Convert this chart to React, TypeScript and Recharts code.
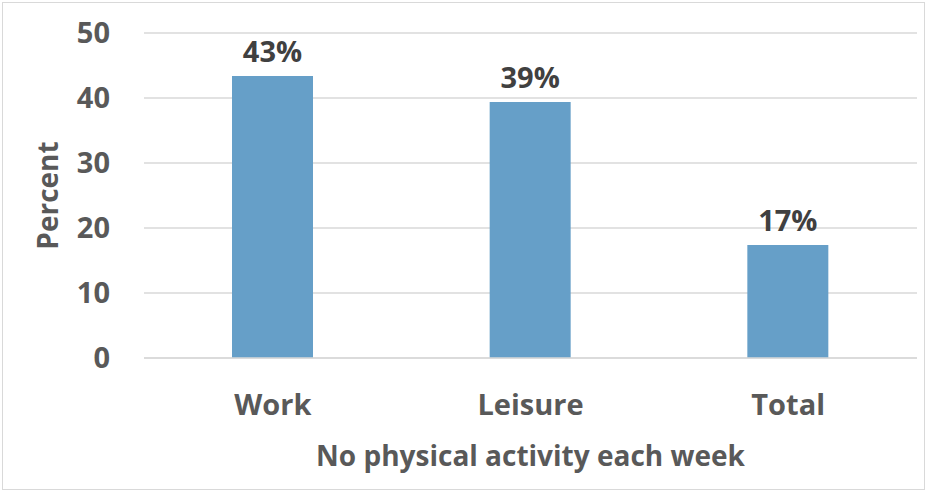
import { Bar, BarChart, CartesianGrid, LabelList, XAxis, YAxis } from "recharts";

const categories = ["Work", "Leisure", "Total"];
const percents = [43.4, 39.4, 17.4];
const yTicks = [0, 10, 20, 30, 40, 50];

const data = categories.map((name, i) => ({ name, value: percents[i] }));

const FONT = "'Open Sans', Lato, sans-serif";

export default function App() {
  return (
    <div
      style={{
        position: "absolute",
        left: 0,
        top: 0,
        width: 927,
        height: 492,
        background: "#fff",
        fontFamily: FONT,
      }}
    >
      <div
        style={{
          position: "absolute",
          left: 2,
          top: 2,
          width: 921,
          height: 486,
          border: "1px solid #d9d9d9",
        }}
      />
      <BarChart
        width={927}
        height={492}
        data={data}
        margin={{ top: 33, right: 10, left: 0, bottom: 0 }}
      >
        <CartesianGrid vertical={false} stroke="#d9d9d9" strokeWidth={1.5} />
        <XAxis
          dataKey="name"
          height={134}
          tickSize={0}
          tickMargin={36}
          axisLine={{ stroke: "#d9d9d9", strokeWidth: 1.5 }}
          tickLine={false}
          tick={{ fill: "#595959", fontSize: 29, fontWeight: 700, fontFamily: FONT }}
          label={{
            value: "No physical activity each week",
            position: "insideBottom",
            offset: 26,
            fill: "#595959",
            fontSize: 28,
            fontWeight: 700,
            fontFamily: FONT,
          }}
        />
        <YAxis
          width={144}
          domain={[0, 50]}
          ticks={yTicks}
          tickSize={0}
          tickMargin={34}
          axisLine={false}
          tickLine={false}
          tick={{ fill: "#595959", fontSize: 29, fontWeight: 700, fontFamily: FONT }}
          label={{
            value: "Percent",
            angle: -90,
            position: "insideLeft",
            offset: 48,
            style: { textAnchor: "middle" },
            fill: "#595959",
            fontSize: 28,
            fontWeight: 700,
            fontFamily: FONT,
          }}
        />
        <Bar dataKey="value" fill="#669fc8" barSize={81} isAnimationActive={false}>
          <LabelList
            dataKey="value"
            position="top"
            offset={14}
            formatter={(v: number) => `${Math.round(v)}%`}
            fill="#404040"
            fontSize={29}
            fontWeight={700}
            fontFamily={FONT}
          />
        </Bar>
      </BarChart>
    </div>
  );
}
